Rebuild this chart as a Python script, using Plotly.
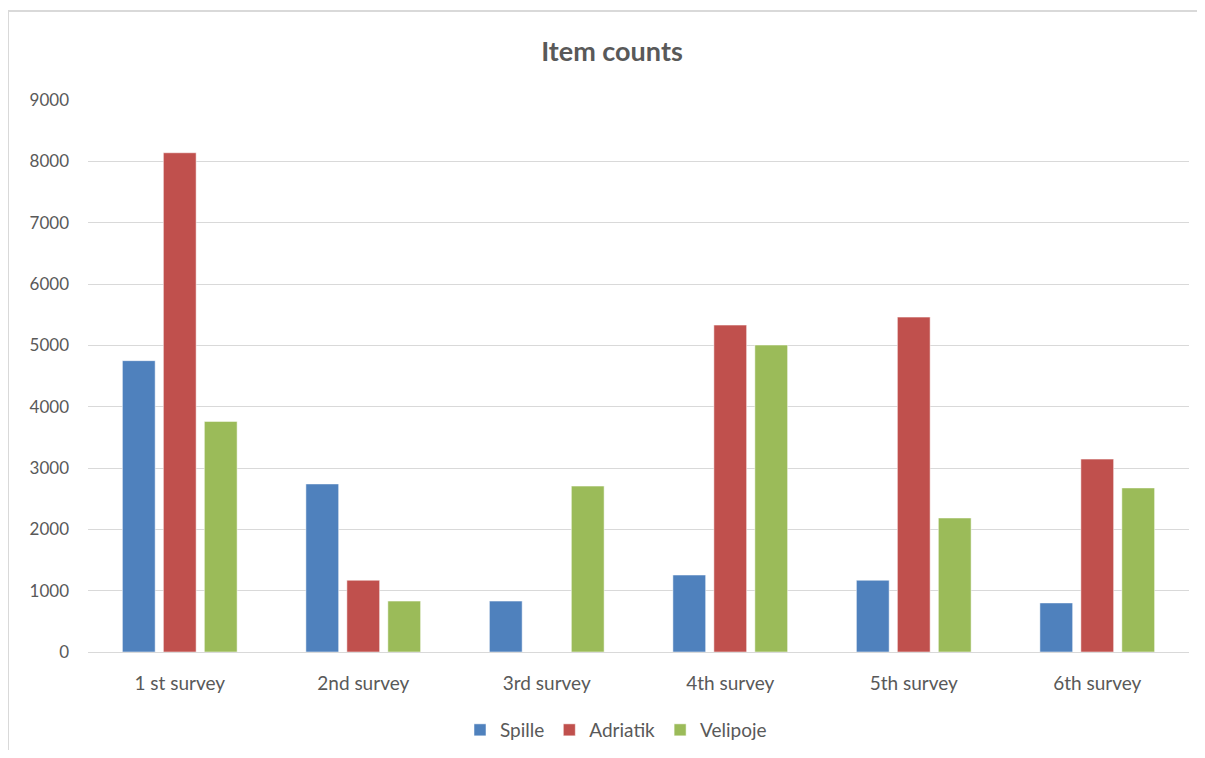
import plotly.graph_objects as go

categories = ["1 st survey", "2nd survey", "3rd survey", "4th survey", "5th survey", "6th survey"]
spille = [4750, 2740, 830, 1255, 1170, 800]
adriatik = [8140, 1170, 0, 5330, 5460, 3145]
velipoje = [3760, 830, 2705, 5005, 2185, 2675]
y_ticks = [0, 1000, 2000, 3000, 4000, 5000, 6000, 7000, 8000, 9000]

series = [("Spille", spille, "#4F81BD"), ("Adriatik", adriatik, "#C0504D"), ("Velipoje", velipoje, "#9BBB59")]

fig = go.Figure()
for name, vals, col in series:
    fig.add_trace(go.Bar(x=categories, y=vals, name=name,
                         marker=dict(color=col, line=dict(color="rgba(255,255,255,0.5)", width=1))))

# page body has an 8px margin on every side; keep the figure inside the window
OFF = 8
W, H = 1205 - 2 * OFF, 758 - 2 * OFF
PLOT_L, PLOT_R, PLOT_T, PLOT_B = 88, 1189, 100, 652  # page pixels
L, T = PLOT_L - OFF, PLOT_T - OFF
R = W - (PLOT_R - OFF)
B = H - (PLOT_B - OFF)
pw, ph = W - L - R, H - T - B

def px(x):
    return (x - OFF - L) / pw

def py(y):
    return (H - B - (y - OFF)) / ph

fig.update_layout(
    width=W, height=H,
    margin=dict(l=L, r=R, t=T, b=B, autoexpand=False),
    paper_bgcolor="white", plot_bgcolor="white",
    font=dict(family="Lato, Open Sans, sans-serif", color="#595959", size=16),
    title=dict(text="<b>Item counts</b>", x=px(612), xanchor="center", xref="paper",
               y=1 - (52 - OFF) / H, yanchor="middle",
               font=dict(size=27, color="#595959")),
    barmode="group", bargap=0.33, bargroupgap=0.2,
    xaxis=dict(showgrid=False, showline=True, linecolor="#D9D9D9", linewidth=1, ticks="",
               automargin=False,
               ticklabelstandoff=14, tickfont=dict(size=19, color="#595959")),
    yaxis=dict(range=[0, 9000], tickvals=y_ticks, showgrid=True, gridcolor="#D9D9D9", gridwidth=1,
               zeroline=False, showline=False, ticks="", ticklabelstandoff=18, automargin=False,
               tickfont=dict(size=17, color="#595959")),
    legend=dict(orientation="h", x=px(616), xanchor="center", y=py(730), yanchor="middle",
                font=dict(size=19, color="#595959"), itemwidth=30, traceorder="normal"),
    showlegend=True,
)
# chart-area border: only top and left edges are visible in the reference
fig.add_shape(type="line", xref="paper", yref="paper",
              x0=px(7), x1=px(1215), y0=py(11), y1=py(11),
              line=dict(color="#D9D9D9", width=2), layer="below")
fig.add_shape(type="line", xref="paper", yref="paper",
              x0=px(8), x1=px(8), y0=py(10), y1=py(770),
              line=dict(color="#D9D9D9", width=2), layer="below")

fig.write_html("out.html")
